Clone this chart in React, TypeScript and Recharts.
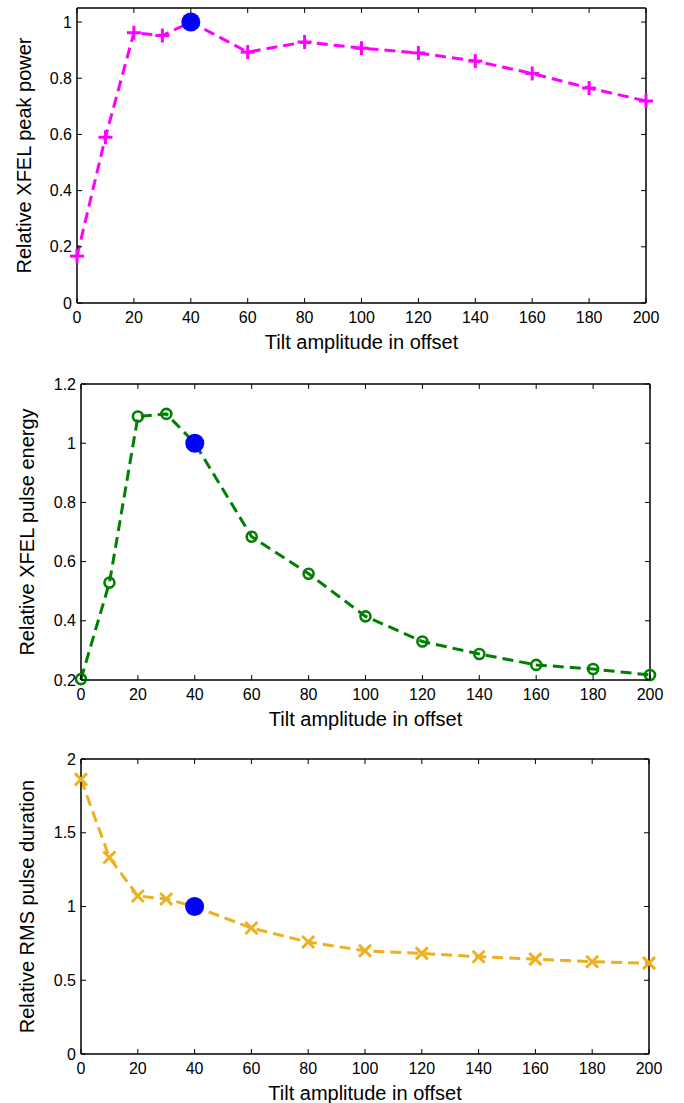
import React from "react";
import { ComposedChart, Line, Scatter, XAxis, YAxis } from "recharts";

// tilt amplitude (offset) and the three relative quantities
const tilt = [0, 10, 20, 30, 40, 60, 80, 100, 120, 140, 160, 180, 200];
const peakPower = [0.167, 0.59, 0.962, 0.952, 1.0, 0.893, 0.929, 0.907, 0.89, 0.861, 0.817, 0.765, 0.719];
const pulseEnergy = [0.203, 0.529, 1.09, 1.099, 1.0, 0.684, 0.559, 0.415, 0.33, 0.288, 0.251, 0.237, 0.217];
const pulseDuration = [1.862, 1.332, 1.071, 1.051, 1.0, 0.854, 0.759, 0.7, 0.682, 0.659, 0.643, 0.625, 0.616];

// reference working point (blue dot)
const refTilt = [40];
const refValue = [1];

const tiltTicks = [0, 20, 40, 60, 80, 100, 120, 140, 160, 180, 200];
const powerTicks = [0, 0.2, 0.4, 0.6, 0.8, 1];
const energyTicks = [0.2, 0.4, 0.6, 0.8, 1, 1.2];
const durationTicks = [0, 0.5, 1, 1.5, 2];

const FONT = '"Liberation Sans", Arial, Helvetica, sans-serif';
const TICK_LEN = 5;
const MARGIN = 9;

function BottomTick({ x, y, payload }: any) {
  const axisY = y - MARGIN;
  return (
    <g>
      <line x1={x} x2={x} y1={axisY} y2={axisY - TICK_LEN} stroke="#000" strokeWidth={1} />
      <text x={x} y={y} dy="0.71em" textAnchor="middle" fontSize={16} fill="#000">
        {payload.value}
      </text>
    </g>
  );
}

function TopTick({ x, y }: any) {
  const axisY = y + MARGIN;
  return <line x1={x} x2={x} y1={axisY} y2={axisY + TICK_LEN} stroke="#000" strokeWidth={1} />;
}

function LeftTick({ x, y, payload }: any) {
  const axisX = x + MARGIN;
  return (
    <g>
      <line x1={axisX} x2={axisX + TICK_LEN} y1={y} y2={y} stroke="#000" strokeWidth={1} />
      <text x={x + 4} y={y} dy="0.355em" textAnchor="end" fontSize={16} fill="#000">
        {payload.value}
      </text>
    </g>
  );
}

function RightTick({ x, y }: any) {
  const axisX = x - MARGIN;
  return <line x1={axisX} x2={axisX - TICK_LEN} y1={y} y2={y} stroke="#000" strokeWidth={1} />;
}

function PlusMarker({ cx, cy, stroke }: any) {
  if (cx == null || cy == null) return null;
  return (
    <g stroke={stroke} strokeWidth={3}>
      <line x1={cx - 7} x2={cx + 7} y1={cy} y2={cy} />
      <line x1={cx} x2={cx} y1={cy - 7} y2={cy + 7} />
    </g>
  );
}

function CircleMarker({ cx, cy, stroke }: any) {
  if (cx == null || cy == null) return null;
  return <circle cx={cx} cy={cy} r={5} fill="none" stroke={stroke} strokeWidth={2.6} />;
}

function CrossMarker({ cx, cy, stroke }: any) {
  if (cx == null || cy == null) return null;
  return (
    <g stroke={stroke} strokeWidth={3}>
      <line x1={cx - 6} x2={cx + 6} y1={cy - 6} y2={cy + 6} />
      <line x1={cx - 6} x2={cx + 6} y1={cy + 6} y2={cy - 6} />
    </g>
  );
}

function RefDot({ cx, cy }: any) {
  return <circle cx={cx} cy={cy} r={9.5} fill="#0000ff" />;
}

type PanelProps = {
  top: number;
  height: number;
  plotTop: number;
  plotLeft: number;
  plotRight: number;
  axisHeight: number;
  xLabelOffset: number;
  yLabelOffset: number;
  domain: [number, number];
  yTicks: number[];
  values: number[];
  color: string;
  marker: React.ReactElement;
  yLabel: string;
};

function Panel(p: PanelProps) {
  const rows = tilt.map((x, i) => ({ x, y: p.values[i] }));
  const ref = refTilt.map((x, i) => ({ x, y: refValue[i] }));
  const axisLine = { stroke: "#000", strokeWidth: 1.5 };
  return (
    <div style={{ position: "absolute", left: 0, top: p.top }}>
      <ComposedChart
        width={684}
        height={p.height}
        data={rows}
        // top/right axes take 1px each (a zero-size axis is not drawn)
        margin={{ top: p.plotTop - 1, right: 684 - p.plotRight - 1, bottom: 0, left: 0 }}
        style={{ fontFamily: FONT }}
      >
        <XAxis
          xAxisId="b"
          dataKey="x"
          type="number"
          domain={[0, 200]}
          ticks={tiltTicks}
          height={p.axisHeight}
          tickSize={0}
          tickMargin={MARGIN}
          tickLine={false}
          axisLine={axisLine}
          tick={<BottomTick />}
          label={{
            value: "Tilt amplitude in offset",
            position: "insideBottom",
            offset: p.xLabelOffset,
            fontSize: 20,
            fill: "#000",
          }}
        />
        <XAxis
          xAxisId="t"
          orientation="top"
          dataKey="x"
          type="number"
          domain={[0, 200]}
          ticks={tiltTicks}
          height={1}
          tickSize={0}
          tickMargin={MARGIN}
          tickLine={false}
          axisLine={axisLine}
          tick={<TopTick />}
        />
        <YAxis
          yAxisId="l"
          type="number"
          domain={p.domain}
          ticks={p.yTicks}
          width={p.plotLeft}
          tickSize={0}
          tickMargin={MARGIN}
          tickLine={false}
          axisLine={axisLine}
          tick={<LeftTick />}
          label={{
            value: p.yLabel,
            angle: -90,
            position: "insideLeft",
            offset: p.yLabelOffset,
            fontSize: 20,
            fill: "#000",
            style: { textAnchor: "middle" },
          }}
        />
        <YAxis
          yAxisId="r"
          orientation="right"
          type="number"
          domain={p.domain}
          ticks={p.yTicks}
          width={1}
          tickSize={0}
          tickMargin={MARGIN}
          tickLine={false}
          axisLine={axisLine}
          tick={<RightTick />}
        />
        <Line
          xAxisId="b"
          yAxisId="l"
          type="linear"
          dataKey="y"
          stroke={p.color}
          strokeWidth={3}
          strokeDasharray="11 6"
          dot={React.cloneElement(p.marker, { stroke: p.color })}
          activeDot={false}
          isAnimationActive={false}
        />
        <Scatter
          xAxisId="t"
          yAxisId="r"
          data={ref}
          dataKey="y"
          shape={<RefDot />}
          isAnimationActive={false}
        />
      </ComposedChart>
    </div>
  );
}

export default function App() {
  return (
    <div style={{ position: "absolute", left: 0, top: 0, width: 684, height: 1103, background: "#fff" }}>
      <Panel
        top={0}
        height={360}
        plotTop={8}
        plotLeft={77}
        plotRight={646}
        axisHeight={57}
        xLabelOffset={11}
        yLabelOffset={24}
        domain={[0, 1.05]}
        yTicks={powerTicks}
        values={peakPower}
        color="#ff00ff"
        marker={<PlusMarker />}
        yLabel="Relative XFEL peak power"
      />
      <Panel
        top={360}
        height={370}
        plotTop={24}
        plotLeft={81}
        plotRight={650}
        axisHeight={50}
        xLabelOffset={4}
        yLabelOffset={27}
        domain={[0.2, 1.2]}
        yTicks={energyTicks}
        values={pulseEnergy}
        color="#008000"
        marker={<CircleMarker />}
        yLabel="Relative XFEL pulse energy"
      />
      <Panel
        top={730}
        height={373}
        plotTop={29}
        plotLeft={81}
        plotRight={649}
        axisHeight={49}
        xLabelOffset={3}
        yLabelOffset={27}
        domain={[0, 2]}
        yTicks={durationTicks}
        values={pulseDuration}
        color="#edb120"
        marker={<CrossMarker />}
        yLabel="Relative RMS pulse duration"
      />
    </div>
  );
}
